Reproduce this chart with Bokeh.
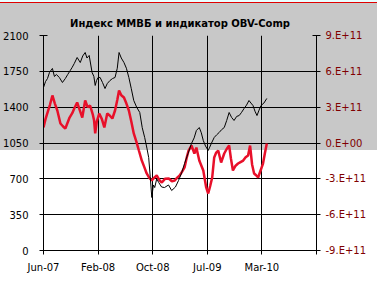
import pandas as pd
from bokeh.plotting import figure
from bokeh.models import Range1d, LinearAxis, FixedTicker
from bokeh.embed import file_html
from bokeh.resources import INLINE

title_text = "Индекс ММВБ и индикатор OBV-Comp"
x_start = "2007-06-29"
x_tick_days = [0, 245, 490, 735, 980, 1225]
x_tick_labels = ["Jun-07", "Feb-08", "Oct-08", "Jul-09", "Mar-10", ""]
left_ticks = [0, 350, 700, 1050, 1400, 1750, 2100]
right_ticks = [-9, -6, -3, 0, 3, 6, 9]
right_tick_labels = ["-9.E+11", "-6.E+11", "-3.E+11", "0.E+00", "3.E+11", "6.E+11", "9.E+11"]

micex_dates = [
    "2007-06-29", "2007-07-08", "2007-07-17", "2007-07-26", "2007-08-08", "2007-08-17", "2007-08-26",
    "2007-09-08", "2007-09-22", "2007-10-05", "2007-10-16", "2007-10-27", "2007-11-05", "2007-11-14",
    "2007-11-27", "2007-12-11", "2007-12-22", "2008-01-02", "2008-01-10", "2008-01-20", "2008-02-02",
    "2008-02-10", "2008-02-16", "2008-02-22", "2008-02-29", "2008-03-09", "2008-03-20", "2008-03-31",
    "2008-04-10", "2008-04-22", "2008-05-04", "2008-05-15", "2008-05-25", "2008-06-02", "2008-06-12",
    "2008-06-24", "2008-07-05", "2008-07-16", "2008-07-27", "2008-08-07", "2008-08-20", "2008-09-03",
    "2008-09-14", "2008-09-25", "2008-10-05", "2008-10-13", "2008-10-20", "2008-10-27", "2008-11-03",
    "2008-11-09", "2008-11-18", "2008-11-27", "2008-12-10", "2008-12-23", "2009-01-10", "2009-01-24",
    "2009-02-10", "2009-02-24", "2009-03-10", "2009-03-23", "2009-04-08", "2009-04-23", "2009-05-05",
    "2009-05-15", "2009-05-28", "2009-06-06", "2009-06-15", "2009-06-25", "2009-07-07", "2009-07-14",
    "2009-07-21", "2009-08-03", "2009-08-14", "2009-08-25", "2009-09-05", "2009-09-17", "2009-09-28",
    "2009-10-09", "2009-10-20", "2009-10-31", "2009-11-12", "2009-11-23", "2009-12-04", "2009-12-15",
    "2009-12-26", "2010-01-06", "2010-01-15", "2010-01-24", "2010-02-02", "2010-02-11", "2010-02-20",
    "2010-03-01", "2010-03-14", "2010-03-27",
]
micex = [
    1592, 1650, 1680, 1740, 1778, 1700, 1719,
    1690, 1641, 1680, 1720, 1758, 1790, 1826,
    1885, 1836, 1900, 1934, 1880, 1905, 1739,
    1700, 1612, 1660, 1690, 1690, 1640, 1582,
    1630, 1660, 1680, 1690, 1780, 1934, 1880,
    1836, 1780, 1690, 1580, 1465, 1400, 1348,
    1200, 1104, 1000, 908, 720, 518, 640,
    615, 700, 664, 620, 615, 640, 586,
    620, 684, 760, 850, 950, 1045, 1100,
    1172, 1201, 1150, 1074, 1020, 977, 1010,
    1045, 1104, 1130, 1152, 1180, 1201, 1270,
    1348, 1300, 1270, 1310, 1318, 1350, 1387,
    1420, 1465, 1440, 1416, 1360, 1318, 1370,
    1416, 1440, 1485,
]

obv_dates = [
    "2007-06-29", "2007-07-08", "2007-07-17", "2007-07-28", "2007-08-08", "2007-08-19", "2007-08-30",
    "2007-09-13", "2007-09-24", "2007-10-05", "2007-10-24", "2007-11-05", "2007-11-14", "2007-11-27",
    "2007-12-08", "2007-12-20", "2008-01-02", "2008-01-13", "2008-01-24", "2008-02-05", "2008-02-11",
    "2008-02-16", "2008-02-23", "2008-03-05", "2008-03-17", "2008-03-28", "2008-04-10", "2008-04-21",
    "2008-05-03", "2008-05-15", "2008-05-25", "2008-06-02", "2008-06-12", "2008-06-24", "2008-07-05",
    "2008-07-16", "2008-07-27", "2008-08-07", "2008-08-19", "2008-08-30", "2008-09-12", "2008-09-23",
    "2008-10-04", "2008-10-15", "2008-10-27", "2008-11-07", "2008-11-18", "2008-11-30", "2008-12-11",
    "2008-12-25", "2009-01-11", "2009-01-25", "2009-02-07", "2009-02-18", "2009-03-01", "2009-03-12",
    "2009-03-23", "2009-04-02", "2009-04-10", "2009-04-23", "2009-05-06", "2009-05-15", "2009-05-28",
    "2009-06-15", "2009-06-28", "2009-07-07", "2009-07-16", "2009-07-25", "2009-08-03", "2009-08-12",
    "2009-08-21", "2009-09-03", "2009-09-17", "2009-09-28", "2009-10-09", "2009-10-17", "2009-10-26",
    "2009-11-07", "2009-11-18", "2009-11-29", "2009-12-11", "2009-12-22", "2010-01-02", "2010-01-11",
    "2010-01-20", "2010-01-29", "2010-02-07", "2010-02-16", "2010-02-27", "2010-03-10", "2010-03-18",
    "2010-03-27",
]
obv_e11 = [
    1.30, 2.00, 2.55, 3.20, 3.98, 3.30, 2.72,
    1.63, 1.40, 1.21, 2.13, 2.50, 2.89, 3.39,
    2.80, 2.13, 3.56, 3.00, 3.14, 2.40, 1.88,
    0.80, 1.80, 2.47, 2.00, 1.30, 2.47, 2.30,
    2.05, 2.72, 3.60, 4.39, 4.00, 3.81, 3.30,
    2.72, 1.80, 0.80, 0.10, -0.63, -1.47, -2.00,
    -2.55, -2.90, -3.14, -2.90, -2.72, -3.10, -3.31,
    -3.00, -2.97, -3.20, -3.14, -2.90, -2.72, -2.40,
    -2.05, -1.20, -0.63, -0.21, -0.88, -0.38, -1.47,
    -2.30, -3.72, -4.23, -3.60, -2.89, -1.21, -0.80,
    -0.63, -1.63, -0.88, -0.50, -0.21, -1.30, -2.30,
    -1.90, -1.72, -1.60, -1.47, -1.20, -1.05, -0.21,
    -1.80, -2.55, -2.70, -2.89, -2.30, -1.72, -0.90,
    -0.04,
]

t0 = pd.Timestamp(x_start)
micex_x = [(pd.Timestamp(d) - t0).days for d in micex_dates]
obv_x = [(pd.Timestamp(d) - t0).days for d in obv_dates]

font = "DejaVu Sans"

p = figure(width=377, height=287, output_backend="svg", toolbar_location=None,
           title=title_text,
           x_range=Range1d(x_tick_days[0], x_tick_days[-1]),
           y_range=Range1d(left_ticks[0], left_ticks[-1]),
           min_border_left=41, min_border_right=61, min_border_top=35, min_border_bottom=37)
p.extra_y_ranges = {"obv": Range1d(right_ticks[0], right_ticks[-1])}

p.title.align = "center"
p.title.text_font = font
p.title.text_font_size = "10px"
p.title.text_font_style = "bold"
p.title.text_color = "black"
p.title.standoff = 13
p.title.offset = 10

p.border_fill_color = None
p.background_fill_color = None
p.outline_line_color = None
p.styles = {"background": "linear-gradient(to bottom, #e8ffff 0px, #e8ffff 2px, #e00000 2px, #e00000 3px, "
                          "#c8c8c8 3px, #c8c8c8 150px, #ffffff 150px, #ffffff 100%)"}

xa = p.xaxis[0]
xa.ticker = FixedTicker(ticks=x_tick_days)
xa.major_label_overrides = {d: lab for d, lab in zip(x_tick_days, x_tick_labels)}
ya = p.yaxis[0]
ya.ticker = FixedTicker(ticks=left_ticks)
ra = LinearAxis(y_range_name="obv", ticker=FixedTicker(ticks=right_ticks))
ra.major_label_overrides = {t: lab for t, lab in zip(right_ticks, right_tick_labels)}
p.add_layout(ra, "right")

for ax in (xa, ya, ra):
    ax.axis_line_color = "black"
    ax.major_tick_line_color = "black"
    ax.major_tick_in = 4
    ax.major_tick_out = 4
    ax.minor_tick_line_color = None
    ax.major_label_text_font = font
    ax.major_label_text_font_size = "10px"
    ax.major_label_text_color = "black"
ya.major_label_standoff = 11
xa.major_label_standoff = 7
ra.major_label_standoff = 5
ra.major_label_text_color = "#800000"

p.xgrid.ticker = FixedTicker(ticks=x_tick_days)
p.ygrid.ticker = FixedTicker(ticks=left_ticks)
for g in (p.xgrid, p.ygrid):
    g.grid_line_color = "black"
    g.grid_line_width = 1

p.line(obv_x, obv_e11, y_range_name="obv", line_color="#e8102a", line_width=2.5)
p.line(micex_x, micex, line_color="black", line_width=1)

open("out.html", "w").write(file_html(p, INLINE))
